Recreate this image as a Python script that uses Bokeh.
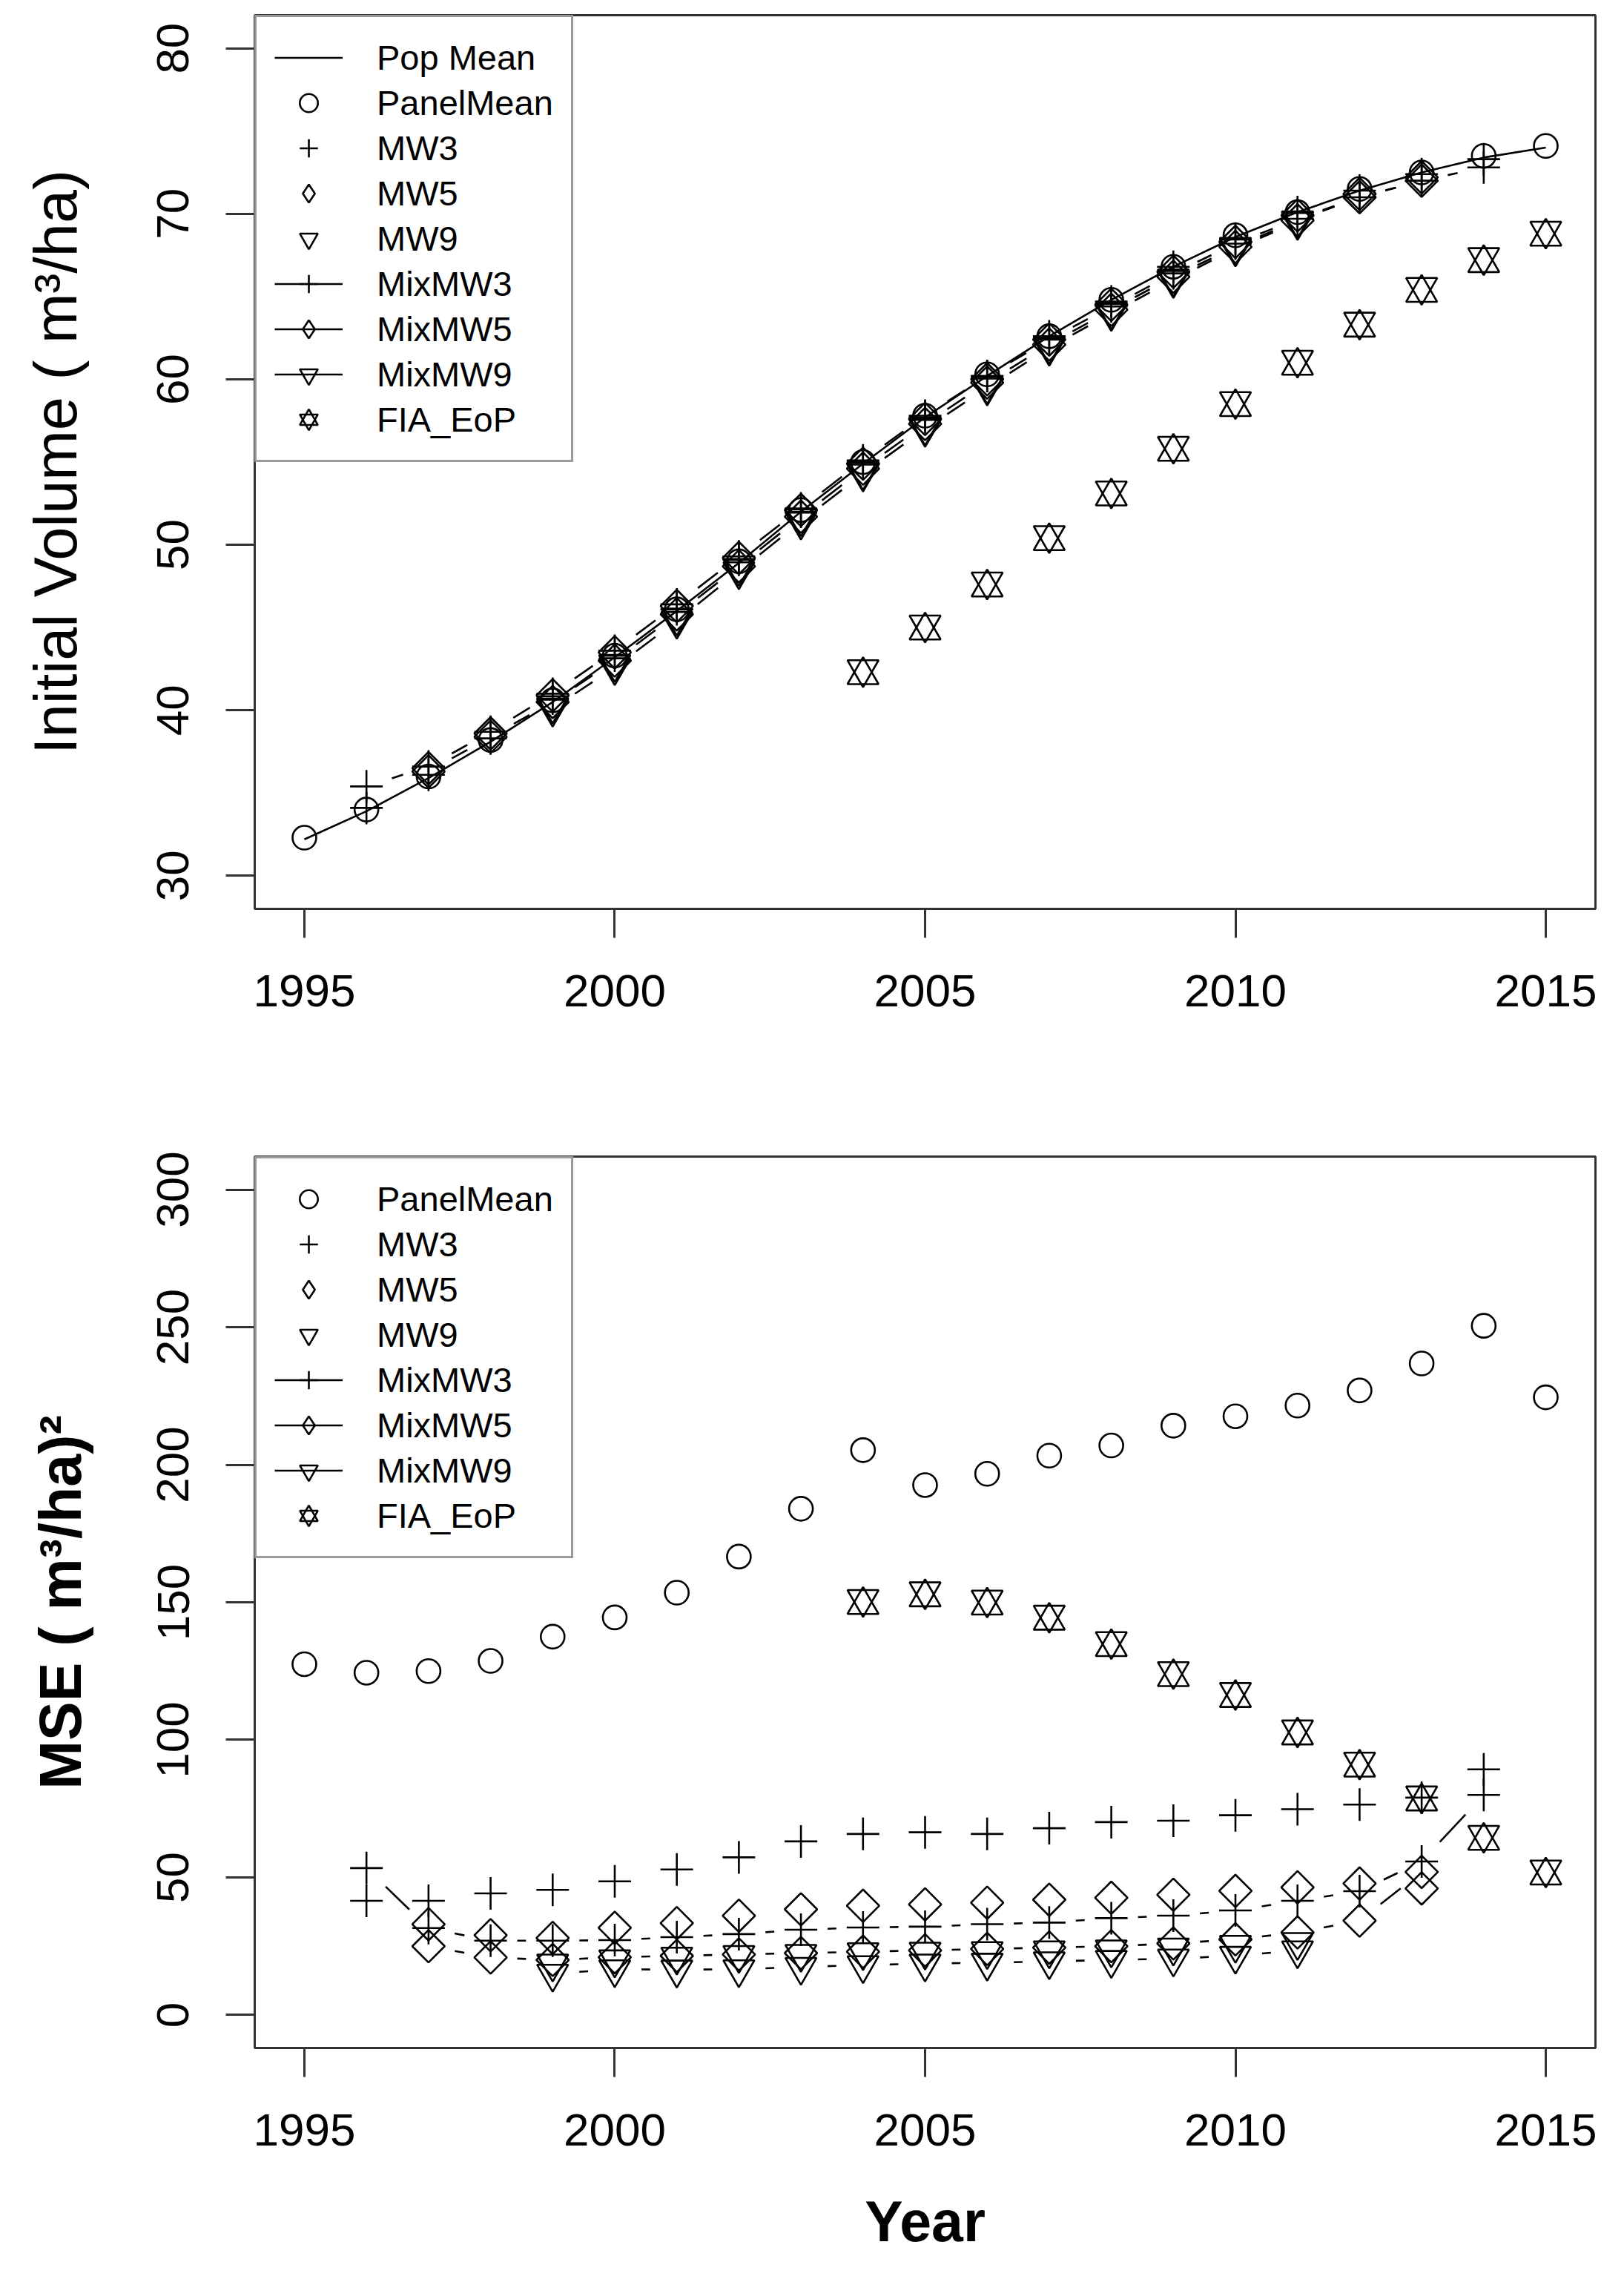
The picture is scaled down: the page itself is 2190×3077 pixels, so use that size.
import math
from bokeh.plotting import figure
from bokeh.models import Legend, LegendItem, FixedTicker, Range1d
from bokeh.layouts import column
from bokeh.embed import file_html
from bokeh.resources import INLINE

# ---------------- data ----------------
years_all = list(range(1995, 2016))
years_mw3 = list(range(1996, 2015))
years_mw5 = list(range(1997, 2014))
years_mw9 = list(range(1999, 2012))
years_fia = list(range(2004, 2016))

x_ticks = [1995, 2000, 2005, 2010, 2015]
vol_ticks = [30, 40, 50, 60, 70, 80]
mse_ticks = [0, 50, 100, 150, 200, 250, 300]

# Top panel: initial volume (m3/ha)
vol_pop_mean = [32.2, 33.9, 35.9, 38.1, 40.5, 43.2, 46.0, 48.9, 52.0, 54.9, 57.7,
                60.2, 62.6, 64.8, 66.8, 68.6, 70.1, 71.4, 72.5, 73.4, 74.0]
vol_panel_mean = [32.3, 34.0, 36.0, 38.2, 40.6, 43.3, 46.1, 49.0, 52.1, 55.0, 57.8,
                  60.3, 62.6, 64.8, 66.8, 68.7, 70.1, 71.5, 72.5, 73.5, 74.1]
vol_mw3 = [34.1, 36.1, 38.3, 40.7, 43.3, 46.1, 49.1, 52.0, 55.0, 57.7, 60.2,
           62.6, 64.7, 66.8, 68.5, 70.1, 71.4, 72.4, 73.3]
vol_mixmw3 = [35.4, 36.6, 38.7, 41.0, 43.6, 46.4, 49.3, 52.2, 55.1, 57.8, 60.2,
              62.4, 64.4, 66.4, 68.2, 69.7, 71.0, 72.0, 72.8]
vol_mw5 = [36.5, 38.6, 40.9, 43.5, 46.3, 49.2, 52.1, 54.9, 57.6, 60.0, 62.4,
           64.5, 66.5, 68.3, 69.9, 71.2, 72.2]
vol_mixmw5 = [36.3, 38.4, 40.5, 43.0, 45.8, 48.7, 51.7, 54.6, 57.3, 59.8, 62.1,
              64.2, 66.2, 68.0, 69.6, 71.0, 72.0]
vol_mw9 = [40.3, 42.8, 45.6, 48.6, 51.6, 54.4, 57.1, 59.6, 62.0, 64.1, 66.1, 68.0, 69.6]
vol_mixmw9 = [40.1, 42.6, 45.4, 48.4, 51.4, 54.3, 57.0, 59.5, 61.9, 64.0, 66.0, 67.9, 69.5]
vol_fia = [42.3, 45.0, 47.6, 50.4, 53.1, 55.8, 58.5, 61.0, 63.3, 65.4, 67.2, 68.8]

# Bottom panel: MSE (m3/ha)^2
mse_panel_mean = [127.5, 124.4, 125.0, 128.7, 137.5, 144.5, 153.5, 166.6, 184.0, 205.3, 192.6,
                  196.7, 203.3, 207.0, 214.2, 217.6, 221.5, 227.0, 236.8, 250.5, 224.5]
mse_mw3 = [41.5, 41.5, 44.2, 45.5, 48.6, 52.9, 57.3, 63.1, 65.8, 66.4, 65.8,
           67.9, 70.1, 70.6, 72.6, 74.8, 76.5, 79.0, 89.3]
mse_mixmw3 = [53.4, 31.6, 27.0, 27.0, 27.2, 28.3, 29.4, 31.0, 31.8, 32.1, 33.0,
              33.6, 35.2, 36.1, 38.0, 41.5, 45.0, 55.8, 80.0]
mse_mw5 = [33.0, 29.0, 28.0, 31.7, 33.4, 36.1, 38.4, 39.7, 40.2, 40.8, 41.9,
           42.6, 43.7, 45.1, 46.4, 47.8, 46.0]
mse_mixmw5 = [25.0, 20.9, 20.0, 21.0, 21.5, 22.0, 22.5, 23.0, 23.5, 24.0, 24.5,
              25.0, 26.0, 27.5, 30.0, 34.3, 52.0]
mse_mw9 = [18.7, 20.2, 21.2, 21.8, 22.2, 22.8, 23.0, 23.2, 23.5, 23.8, 24.5, 25.5, 26.5]
mse_mixmw9 = [15.0, 16.6, 16.5, 16.6, 17.5, 18.1, 18.7, 19.0, 19.5, 20.0, 20.5, 21.5, 23.5]
mse_fia = [150.1, 152.9, 149.9, 144.4, 134.8, 123.9, 116.3, 102.7, 91.0, 78.7, 64.4, 51.8]

# ---------------- style ----------------
FONT = "Liberation Sans"
BOX = "#333333"
FW = 1808
X0, X1 = 1994.2, 2015.8
LW = 2.6
GAP = 36          # px gap around points for R "type b" line segments
STAR_SHIFT = 4.0  # px: the two triangles of R's pch 11 are pushed apart
MSZ = {"circle": 32, "cross": 44, "diamond": 31, "tri": 42, "star": 42}


def typeb(xs, ys, sx, sy, gap=GAP):
    a0, b0, a1, b1 = [], [], [], []
    for i in range(len(xs) - 1):
        dx = (xs[i + 1] - xs[i]) * sx
        dy = (ys[i + 1] - ys[i]) * sy
        L = math.hypot(dx, dy)
        if L <= 2 * gap:
            continue
        f = gap / L
        a0.append(xs[i] + (xs[i + 1] - xs[i]) * f)
        b0.append(ys[i] + (ys[i + 1] - ys[i]) * f)
        a1.append(xs[i + 1] - (xs[i + 1] - xs[i]) * f)
        b1.append(ys[i + 1] - (ys[i + 1] - ys[i]) * f)
    return a0, b0, a1, b1


def make_fig(fh, y0, y1, yticks, ylabel, bold_label, lab_size, mb_top, mb_bottom,
             xlabel=None, ylab_standoff=90):
    p = figure(frame_width=FW, frame_height=fh, x_range=Range1d(X0, X1),
               y_range=Range1d(y0, y1), output_backend="svg", toolbar_location=None,
               min_border_left=343, min_border_right=23, min_border_top=mb_top,
               min_border_bottom=mb_bottom)
    p.grid.visible = False
    p.outline_line_color = BOX
    p.outline_line_width = 3
    p.background_fill_color = "white"
    p.border_fill_color = "white"
    for ax in (p.xaxis[0], p.yaxis[0]):
        ax.axis_line_color = None
        ax.major_tick_in = 0
        ax.major_tick_out = 39
        ax.major_tick_line_color = BOX
        ax.major_tick_line_width = 3
        ax.minor_tick_line_color = None
        ax.major_label_text_font = FONT
        ax.major_label_text_font_size = "62px"
        ax.major_label_text_color = "black"
    p.xaxis.ticker = FixedTicker(ticks=x_ticks)
    p.yaxis.ticker = FixedTicker(ticks=yticks)
    p.yaxis.major_label_orientation = "vertical"
    p.xaxis.major_label_standoff = 50
    p.yaxis.major_label_standoff = 50
    p.yaxis.axis_label = ylabel
    p.yaxis.axis_label_text_font = FONT
    p.yaxis.axis_label_text_font_size = lab_size
    p.yaxis.axis_label_text_font_style = "bold" if bold_label else "normal"
    p.yaxis.axis_label_standoff = ylab_standoff
    p.yaxis.axis_label_text_color = "black"
    if xlabel:
        p.xaxis.axis_label = xlabel
        p.xaxis.axis_label_text_font = FONT
        p.xaxis.axis_label_text_font_size = "77px"
        p.xaxis.axis_label_text_font_style = "bold"
        p.xaxis.axis_label_standoff = 56
        p.xaxis.axis_label_text_color = "black"
    return p


def pts(p, xs, ys, marker, size, angle=0.0):
    return p.scatter(xs, ys, marker=marker, size=size, angle=angle, fill_color=None,
                     line_color="black", line_width=LW)


def add_panel(p, fh, y0, y1, pop, panel, mw3, mix3, mw5, mix5, mw9, mix9, fia):
    sx = FW / (X1 - X0)
    sy = fh / (y1 - y0)
    # off-range single point used only for legend glyphs
    ox, oy = [X0 - 10], [y0 - 1000]
    leg_diamond = p.scatter(ox, oy, marker="diamond", size=10, fill_color=None,
                            line_color="black", line_width=LW)
    items = []
    if pop is not None:
        pl = p.line(years_all, pop, line_color="black", line_width=LW)
        items.append(("Pop Mean", [pl]))
    r_panel = pts(p, years_all, panel, "circle", MSZ["circle"])
    items.append(("PanelMean", [r_panel]))
    r_mw3 = pts(p, years_mw3, mw3, "cross", MSZ["cross"])
    pts(p, years_mw5, mw5, "square", MSZ["diamond"], math.pi / 4)
    r_mw9 = pts(p, years_mw9, mw9, "inverted_triangle", MSZ["tri"])
    items += [("MW3", [r_mw3]), ("MW5", [leg_diamond]), ("MW9", [r_mw9])]
    for lab, yrs, vals, mk, sz, ang in (("MixMW3", years_mw3, mix3, "cross", MSZ["cross"], 0.0),
                                        ("MixMW5", years_mw5, mix5, "square", MSZ["diamond"], math.pi / 4),
                                        ("MixMW9", years_mw9, mix9, "inverted_triangle", MSZ["tri"], 0.0)):
        a0, b0, a1, b1 = typeb(yrs, vals, sx, sy)
        p.segment(a0, b0, a1, b1, line_color="black", line_width=LW)
        leg_line = p.line(ox, oy, line_color="black", line_width=LW)
        r = pts(p, yrs, vals, mk, sz, ang)
        items.append((lab, [leg_line, leg_diamond if lab == "MixMW5" else r]))
    d = STAR_SHIFT / sy
    s1 = pts(p, years_fia, [v - d for v in fia], "triangle", MSZ["star"])
    s2 = pts(p, years_fia, [v + d for v in fia], "inverted_triangle", MSZ["star"])
    items.append(("FIA_EoP", [s1, s2]))
    legend = Legend(items=[LegendItem(label=l, renderers=r) for l, r in items],
                    location="top_left", margin=0, padding=24, spacing=0,
                    glyph_height=61, glyph_width=92, label_height=61, label_standoff=46,
                    label_text_font=FONT, label_text_font_size="47px",
                    label_text_color="black", border_line_color=BOX, border_line_width=3,
                    background_fill_color="white", background_fill_alpha=1.0)
    p.add_layout(legend, "center")


# ---------------- top panel ----------------
FH1 = 1205
p1 = make_fig(FH1, 28, 82, vol_ticks, "Initial Volume ( m\u00b3/ha)", False, "81px", 20, 245,
              ylab_standoff=90)
add_panel(p1, FH1, 28, 82, vol_pop_mean, vol_panel_mean, vol_mw3, vol_mixmw3, vol_mw5,
          vol_mixmw5, vol_mw9, vol_mixmw9, vol_fia)

# ---------------- bottom panel ----------------
FH2 = 1202
p2 = make_fig(FH2, -12, 312, mse_ticks, "MSE ( m\u00b3/ha)\u00b2", True, "79px", 89, 290,
              xlabel="Year", ylab_standoff=84)
add_panel(p2, FH2, -12, 312, None, mse_panel_mean, mse_mw3, mse_mixmw3, mse_mw5,
          mse_mixmw5, mse_mw9, mse_mixmw9, mse_fia)

layout = column(p1, p2, spacing=0)
open("out.html", "w").write(file_html(layout, INLINE))
